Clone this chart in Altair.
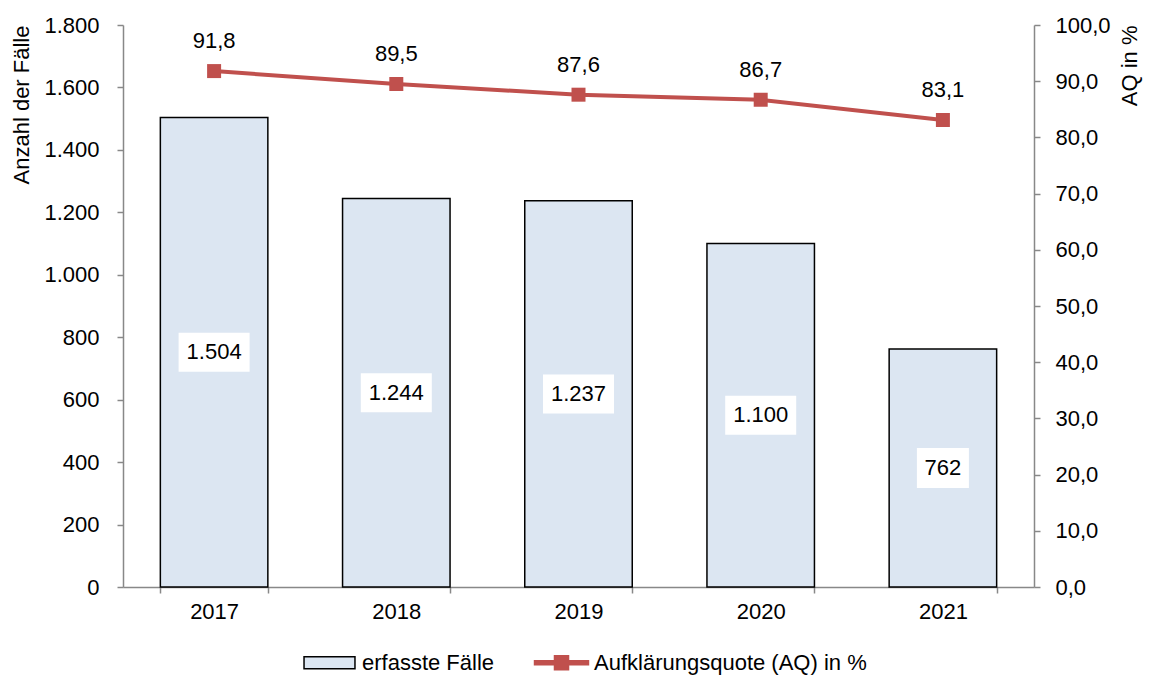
import altair as alt
import pandas as pd

# ---- data ----
years = ["2017", "2018", "2019", "2020", "2021"]
cases = [1504, 1244, 1237, 1100, 762]
cases_labels = ["1.504", "1.244", "1.237", "1.100", "762"]
aq = [91.8, 89.5, 87.6, 86.7, 83.1]
aq_labels = ["91,8", "89,5", "87,6", "86,7", "83,1"]
series = ["erfasste Fälle", "Aufklärungsquote (AQ) in %"]

df = pd.DataFrame({
    "year": years,
    "cases": cases,
    "mid": [c / 2 for c in cases],
    "cases_label": cases_labels,
    "nchar": [len(s) for s in cases_labels],
    "aq": aq,
    "aq_label": aq_labels,
    "s_bar": series[0],
    "s_line": series[1],
})

FONT = "Liberation Sans"
BAR_FILL = "#dce6f2"
RED = "#c0504d"
GRAY = "#888888"
FS = 22

RECT_PATH = "M-0.93,-0.22L0.93,-0.22L0.93,0.22L-0.93,0.22Z"
LINE_PATH = ("M-0.985,-0.073L-0.256,-0.073L-0.256,-0.256L0.256,-0.256L0.256,-0.073"
             "L0.985,-0.073L0.985,0.073L0.256,0.073L0.256,0.256L-0.256,0.256"
             "L-0.256,0.073L-0.985,0.073Z")
BOX_WIDE = "M-0.71,-0.39L0.71,-0.39L0.71,0.39L-0.71,0.39Z"
BOX_NARROW = "M-0.52,-0.40L0.52,-0.40L0.52,0.40L-0.52,0.40Z"

fill_scale = alt.Scale(domain=series, range=[BAR_FILL, RED])
stroke_scale = alt.Scale(domain=series, range=["#000000", RED])
shape_scale = alt.Scale(domain=series, range=[RECT_PATH, LINE_PATH])

LEG = dict(title=None, orient="none", legendX=178, legendY=609, direction="horizontal",
           symbolSize=3000, symbolStrokeWidth=1.5, labelFont=FONT, labelFontSize=FS,
           labelColor="black", labelOffset=4, columnPadding=36, labelLimit=400)

x_enc = alt.X("year:N", sort=years,
              scale=alt.Scale(paddingInner=0.41, paddingOuter=0.205),
              axis=alt.Axis(title=None, labelAngle=0, tickBand="extent",
                            domainColor=GRAY, tickColor=GRAY, domainWidth=1.5,
                            tickWidth=1.5, tickSize=6, labelPadding=8,
                            labelFontSize=FS, labelFont=FONT, labelColor="black"))

y_left_scale = alt.Scale(domain=[0, 1800], nice=False)
y_left_axis = alt.Axis(title="Anzahl der Fälle", values=list(range(0, 1801, 200)),
                       labelExpr="replace(format(datum.value, ',.0f'), ',', '.')",
                       grid=False, domainColor=GRAY, tickColor=GRAY, domainWidth=1.5,
                       tickWidth=1.5, tickSize=6, labelPadding=18,
                       labelFontSize=FS, labelFont=FONT, labelColor="black",
                       titleFont=FONT, titleFontSize=FS, titleFontWeight="normal",
                       titleColor="black", titleAnchor="end", titlePadding=10)

y_right_scale = alt.Scale(domain=[0, 100], nice=False)
y_right_axis = alt.Axis(title="AQ in %", orient="right", values=list(range(0, 101, 10)),
                        labelExpr="replace(format(datum.value, '.1f'), '.', ',')",
                        grid=False, domainColor=GRAY, tickColor=GRAY, domainWidth=1.5,
                        tickWidth=1.5, tickSize=6, labelPadding=15,
                        labelFontSize=FS, labelFont=FONT, labelColor="black",
                        titleFont=FONT, titleFontSize=FS, titleFontWeight="normal",
                        titleColor="black", titleAnchor="end", titleAngle=270,
                        titlePadding=31)

base = alt.Chart(df)

bars = base.mark_bar(strokeWidth=1.5).encode(
    x=x_enc,
    y=alt.Y("cases:Q", scale=y_left_scale, axis=y_left_axis),
    fill=alt.Fill("s_bar:N", scale=fill_scale, legend=alt.Legend(**LEG)),
    stroke=alt.Stroke("s_bar:N", scale=stroke_scale, legend=alt.Legend(**LEG)),
)

box_wide = base.transform_filter("datum.nchar >= 4").mark_point(
    filled=True, fill="white", opacity=1, size=10000, shape=BOX_WIDE, strokeWidth=0
).encode(x=alt.X("year:N", sort=years), y=alt.Y("mid:Q"))

box_narrow = base.transform_filter("datum.nchar < 4").mark_point(
    filled=True, fill="white", opacity=1, size=10000, shape=BOX_NARROW, strokeWidth=0
).encode(x=alt.X("year:N", sort=years), y=alt.Y("mid:Q"))

bar_text = base.mark_text(font=FONT, fontSize=FS, color="black", baseline="middle").encode(
    x=alt.X("year:N", sort=years), y=alt.Y("mid:Q"), text="cases_label:N")

left = alt.layer(bars, box_wide, box_narrow, bar_text)

line = base.mark_line(strokeWidth=4).encode(
    x=alt.X("year:N", sort=years),
    y=alt.Y("aq:Q", scale=y_right_scale, axis=y_right_axis),
    stroke=alt.Stroke("s_line:N", scale=stroke_scale, legend=alt.Legend(**LEG)),
)

points = base.mark_point(filled=True, opacity=1, shape="square", size=196, strokeWidth=0).encode(
    x=alt.X("year:N", sort=years),
    y=alt.Y("aq:Q"),
    fill=alt.Fill("s_line:N", scale=fill_scale, legend=alt.Legend(**LEG)),
)

legend_dummy = base.transform_filter("false").mark_point(filled=True, opacity=1).encode(
    shape=alt.Shape("s_line:N", scale=shape_scale, legend=alt.Legend(**LEG)),
    fill=alt.Fill("s_line:N", scale=fill_scale, legend=alt.Legend(**LEG)),
)

line_text = base.mark_text(font=FONT, fontSize=FS, color="black", baseline="middle", dy=-30).encode(
    x=alt.X("year:N", sort=years), y=alt.Y("aq:Q"), text="aq_label:N")

right = alt.layer(line, points, line_text, legend_dummy)

chart = alt.layer(left, right).resolve_scale(y="independent").properties(
    width=911, height=562,
    autosize="none",
    padding={"left": 115, "top": 17, "right": 111, "bottom": 89},
).configure(font=FONT).configure_view(stroke=None)

chart.save("out.html", embed_options={"renderer": "svg", "actions": False})
